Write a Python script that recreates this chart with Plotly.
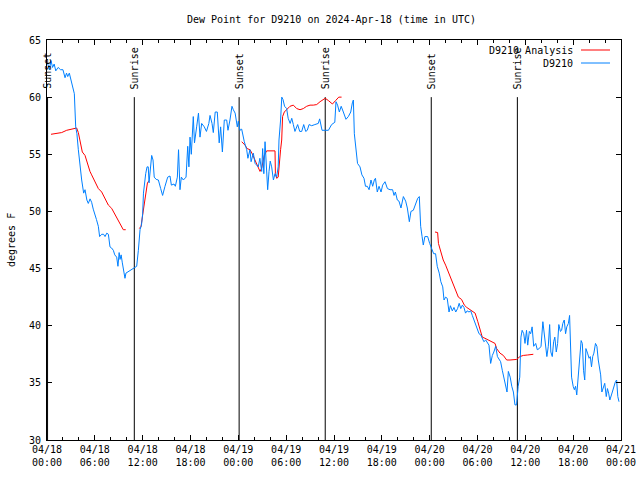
import pandas as pd
import plotly.graph_objects as go

START = "2024-04-18 00:00"

# ---- data (hours after 04/18 00:00 UTC, dew point in deg F) ----
obs_hours = [0.05, 0.3, 0.5, 0.7, 0.9, 1.1, 1.4, 1.7, 2.0, 2.26, 2.45, 2.6, 2.8, 3.1, 3.3, 3.43, 3.6, 3.75,
             3.93, 4.14, 4.35, 4.6, 4.77, 5.0, 5.18, 5.4, 5.6, 5.8, 6.02, 6.2, 6.44, 6.6, 6.86, 7.1, 7.28,
             7.5, 7.7, 7.9, 8.1, 8.32, 8.5, 8.74, 8.9, 9.05, 9.16, 9.3, 9.45, 9.6, 9.78, 9.9, 10.3, 10.6,
             11.0, 11.25, 11.46, 11.67, 11.85, 12.0, 12.1, 12.25, 12.38, 12.55, 12.7, 12.8, 13.0, 13.13,
             13.3, 13.45, 13.7, 13.97, 14.26, 14.5, 14.8, 15.14, 15.43, 15.6, 15.93, 16.1, 16.35, 16.5,
             16.68, 16.85, 17.1, 17.44, 17.65, 17.8, 17.94, 18.1, 18.35, 18.5, 18.77, 19.0, 19.19, 19.4,
             19.73, 20.0, 20.3, 20.45, 20.7, 20.86, 21.1, 21.36, 21.6, 21.78, 22.0, 22.24, 22.54, 22.7,
             22.95, 23.2, 23.37, 23.6, 23.87, 24.0, 24.2, 24.42, 24.75, 25.05, 25.2, 25.46, 25.6, 25.88,
             26.1, 26.5, 26.7, 26.93, 27.05, 27.2, 27.35, 27.5, 27.68, 27.85, 28.0, 28.18, 28.4, 28.6,
             28.8, 29.0, 29.1, 29.3, 29.45, 29.6, 29.8, 30.06, 30.25, 30.5, 30.7, 30.9, 31.1, 31.44, 31.7,
             31.95, 32.2, 32.45, 32.65, 32.87, 33.2, 33.6, 34.03, 34.2, 34.5, 34.87, 35.3, 35.7, 35.9,
             36.1, 36.25, 36.45, 36.67, 36.9, 37.17, 37.5, 37.8, 38.1, 38.3, 38.43, 38.55, 38.72, 38.95,
             39.26, 39.5, 39.76, 39.95, 40.18, 40.4, 40.64, 40.85, 41.06, 41.2, 41.43, 41.65, 41.9, 42.1,
             42.4, 42.7, 43.03, 43.35, 43.53, 43.7, 43.94, 44.15, 44.4, 44.7, 44.99, 45.2, 45.45, 45.65,
             45.95, 46.25, 46.5, 46.7, 46.87, 47.05, 47.2, 47.4, 47.75, 48.0, 48.3, 48.5, 48.74, 48.95,
             49.2, 49.4, 49.64, 49.8, 50.0, 50.2, 50.43, 50.6, 50.84, 51.05, 51.27, 51.5, 51.7, 51.9,
             52.1, 52.3, 52.5, 52.7, 52.93, 53.15, 53.35, 53.55, 53.77, 54.0, 54.19, 54.4, 54.6, 54.8,
             55.03, 55.25, 55.44, 55.65, 55.86, 56.05, 56.28, 56.5, 56.7, 56.9, 57.11, 57.3, 57.53, 57.7,
             57.87, 58.1, 58.3, 58.5, 58.7, 58.9, 59.1, 59.3, 59.45, 59.6, 59.8, 59.96, 60.15, 60.3, 60.5,
             60.67, 60.85, 61.05, 61.3, 61.5, 61.75, 61.97, 62.2, 62.38, 62.55, 62.7, 62.88, 63.05, 63.2,
             63.38, 63.55, 63.7, 63.88, 64.05, 64.2, 64.4, 64.55, 64.7, 64.88, 65.05, 65.2, 65.4, 65.55,
             65.65, 65.8, 66.0, 66.15, 66.3, 66.45, 66.6, 66.8, 67.0, 67.15, 67.3, 67.45, 67.6, 67.8,
             68.0, 68.15, 68.3, 68.45, 68.6, 68.8, 68.98, 69.15, 69.3, 69.45, 69.6, 69.8, 69.96, 70.15,
             70.3, 70.45, 70.6, 70.8, 70.98, 71.15, 71.3, 71.45, 71.6, 71.75]
obs_dewpt = [63.0, 62.4, 63.2, 62.6, 62.9, 62.3, 62.6, 62.4, 62.4, 61.7, 62.1, 61.8, 62.1, 61.2, 60.8, 60.3,
             57.4, 56.8, 55.4, 53.9, 52.75, 51.6, 51.9, 51.0, 50.7, 51.1, 50.8, 50.2, 49.8, 49.3, 48.7,
             47.8, 48.0, 48.0, 47.8, 48.1, 48.0, 46.9, 46.8, 46.6, 46.2, 46.0, 45.2, 46.4, 45.8, 46.2,
             45.5, 45.0, 44.15, 44.6, 44.8, 44.9, 45.1, 45.2, 46.6, 48.4, 48.8, 49.8, 51.6, 52.75, 53.3,
             53.9, 53.9, 52.5, 54.5, 54.9, 54.5, 53.0, 52.8, 52.75, 52.0, 51.4, 52.2, 53.0, 53.1, 52.3,
             52.4, 52.2, 53.0, 55.4, 51.9, 53.0, 52.75, 53.0, 55.7, 53.9, 56.5, 55.0, 58.3, 56.0, 57.4,
             58.6, 56.5, 57.7, 57.4, 57.0, 57.7, 58.4, 57.7, 56.9, 58.7, 58.7, 56.0, 57.4, 55.2, 58.0,
             58.0, 57.1, 58.0, 59.2, 58.9, 58.6, 57.4, 57.9, 57.1, 57.2, 56.1, 55.4, 54.65, 55.4, 54.35,
             55.1, 54.2, 53.9, 54.65, 53.5, 55.5, 53.3, 56.1, 53.5, 51.9, 53.5, 54.4, 53.9, 52.75, 53.3,
             53.0, 53.9, 56.25, 58.0, 60.0, 59.8, 59.2, 59.0, 58.15, 57.7, 58.15, 57.6, 57.0, 57.6, 57.0,
             57.0, 57.6, 57.0, 57.1, 57.6, 57.5, 57.6, 57.7, 58.1, 57.1, 57.1, 57.1, 57.6, 57.7, 57.8,
             59.6, 59.3, 58.7, 59.2, 58.7, 58.06, 58.3, 58.7, 59.5, 59.75, 56.8, 55.4, 54.2, 53.9, 53.2,
             52.9, 52.2, 52.2, 51.9, 52.75, 52.2, 52.75, 52.9, 51.7, 52.2, 51.7, 52.3, 52.6, 52.0, 51.9,
             51.9, 51.4, 51.7, 51.0, 50.9, 50.3, 51.3, 50.9, 50.3, 49.1, 50.0, 50.1, 50.7, 51.15, 51.3,
             48.7, 47.8, 47.06, 47.8, 47.8, 47.2, 46.6, 46.3, 46.3, 45.2, 44.6, 43.85, 43.4, 42.25, 42.5,
             42.4, 41.2, 41.75, 41.3, 41.6, 41.2, 41.5, 41.96, 41.5, 41.8, 41.6, 41.1, 41.3, 41.2, 41.3,
             40.9, 40.5, 40.2, 39.6, 39.3, 39.2, 38.9, 38.6, 38.75, 38.45, 38.3, 36.7, 37.4, 37.7, 38.2,
             37.3, 37.0, 36.85, 36.1, 35.5, 34.96, 34.2, 36.0, 35.5, 34.7, 34.2, 33.07, 33.07, 34.7, 35.5,
             39.0, 39.6, 39.3, 38.45, 39.6, 38.3, 39.5, 39.3, 39.9, 38.2, 38.45, 37.9, 38.0, 38.2, 40.35,
             39.3, 38.7, 37.3, 38.2, 40.1, 37.7, 37.3, 38.6, 39.0, 37.7, 38.45, 40.1, 39.5, 39.6, 40.2,
             40.5, 39.3, 39.9, 40.2, 40.9, 38.45, 35.5, 34.7, 34.4, 34.7, 33.94, 35.25, 37.0, 38.7, 38.45,
             36.1, 35.25, 38.0, 37.6, 37.15, 37.3, 36.4, 37.3, 37.6, 38.45, 38.2, 37.0, 36.4, 35.7, 34.2,
             34.7, 34.96, 33.8, 34.5, 34.1, 33.5, 33.94, 34.4, 34.8, 35.1, 35.25, 33.8, 33.35]

ana_hours = [0.5, 1.2, 1.84, 2.47, 3.1, 3.72, 3.93, 4.14, 4.43, 4.77, 5.1, 5.39, 5.6, 6.02, 6.44, 6.86,
             7.28, 7.69, 8.11, 8.53, 8.95, 9.28, 9.57, 9.87, None,
             11.58, 11.8, 12.0, 12.2, 12.4, 12.6, 12.8, None,
             24.42, 24.84, 25.1, 25.46, 25.7, 25.97, 26.3, 26.5, 26.72, 26.93, 27.13, 27.25, 27.55,
             28.0, 28.6, 28.65, 28.81, 29.0, 29.14, 29.3, 29.44, 29.55, 29.77, 30.06, 30.48, 30.9,
             31.32, 31.74, 32.15, 32.57, 32.99, 33.4, 33.83, 34.25, 34.66, 34.9, 35.3, 35.8, 36.2,
             36.6, 36.95, None,
             48.67, 49.0, 49.1, 49.42, 49.7, 50.0, 50.34, 50.68, 50.96, 51.27, 51.6, 52.0, 52.35,
             52.65, 53.06, 53.35, 53.7, 54.04, 54.3, 54.6, 54.94, 55.35, 55.78, 56.2, 56.4, 56.82,
             57.24, 57.66, 58.08, 58.5, 58.9, 59.33, 59.75, 60.3, 61.0]
ana_dewpt = [56.75, 56.85, 56.9, 57.1, 57.2, 57.3, 56.9, 56.25, 55.2, 54.9, 54.06, 53.5, 53.2, 52.6, 52.0,
             51.7, 51.15, 50.56, 50.27, 49.7, 49.25, 48.67, 48.4, 48.4, None,
             48.5, 48.7, 49.7, 50.8, 51.7, 52.5, 52.7, None,
             56.1, 55.8, 55.5, 55.4, 55.1, 54.65, 54.2, 53.9, 53.5, 53.8, 54.35, 54.9, 55.3,
             55.3, 55.3, 53.3, 52.9, 53.0, 54.5, 55.4, 56.25, 58.3, 58.7, 58.9, 59.2, 59.3,
             59.0, 58.9, 59.0, 59.2, 59.3, 59.3, 59.35, 59.6, 59.8, 59.9, 59.7, 59.4, 59.7,
             60.0, 60.0, None,
             48.2, 48.15, 47.2, 46.3, 45.75, 45.3, 44.7, 44.15, 43.7, 43.1, 42.5, 42.3, 41.8,
             41.6, 41.4, 41.2, 41.1, 40.35, 39.6, 39.0, 38.9, 38.75, 38.6, 38.45, 38.0, 37.6,
             37.4, 37.0, 37.0, 37.05, 37.05, 37.3, 37.4, 37.44, 37.5]

sun_hours = [0.07, 10.95, 24.1, 34.9, 48.2, 59.0]
sun_labels = ["Sunset", "Sunrise", "Sunset", "Sunrise", "Sunset", "Sunrise"]
sun_line_top = 60

series_names = ["D9210 Analysis", "D9210"]
title_text = "Dew Point for D9210 on 2024-Apr-18 (time in UTC)"
y_title = "degrees F"
# -----------------------------------------------------------------

t0 = pd.Timestamp(START)


def to_time(hours):
    return [None if h is None else t0 + pd.Timedelta(hours=h) for h in hours]


FONT = "DejaVu Sans Mono"
RED = "#ff0000"
BLUE = "#0080ff"

fig = go.Figure()

# sunrise / sunset lines
for h, lab in zip(sun_hours, sun_labels):
    t = t0 + pd.Timedelta(hours=h)
    fig.add_trace(go.Scatter(x=[t, t], y=[30, sun_line_top], mode="lines",
                             line=dict(color="black", width=1), showlegend=False,
                             hoverinfo="skip"))
    fig.add_annotation(x=t, y=sun_line_top, xref="x", yref="y", text=lab,
                       textangle=-90, showarrow=False, xanchor="center", yanchor="bottom",
                       yshift=6, font=dict(family=FONT, size=10, color="black"))

fig.add_trace(go.Scatter(x=to_time(ana_hours), y=ana_dewpt, mode="lines",
                         line=dict(color=RED, width=1), name=series_names[0],
                         connectgaps=False, showlegend=False))
fig.add_trace(go.Scatter(x=to_time(obs_hours), y=obs_dewpt, mode="lines",
                         line=dict(color=BLUE, width=1), name=series_names[1],
                         showlegend=False))

# gnuplot-style legend (text right, sample line to its right)
for i, (nm, col) in enumerate(zip(series_names, [RED, BLUE])):
    ypx = 50 + 13 * i
    ypap = 1 - (ypx - 40) / 400
    fig.add_annotation(xref="paper", yref="paper", x=(574 - 47) / 574, y=ypap,
                       text=nm, showarrow=False, xanchor="right", yanchor="middle",
                       font=dict(family=FONT, size=10, color="black"), borderpad=0)
    fig.add_shape(type="line", xref="paper", yref="paper",
                  x0=(581 - 47) / 574, x1=(610 - 47) / 574, y0=ypap, y1=ypap,
                  line=dict(color=col, width=1))

fig.add_annotation(xref="paper", yref="paper", x=0, y=0.5, xshift=-36,
                   text=y_title, textangle=-90, showarrow=False,
                   xanchor="center", yanchor="middle",
                   font=dict(family=FONT, size=10, color="black"))

fig.update_layout(
    width=640, height=480,
    margin=dict(l=47, r=19, t=40, b=40, autoexpand=False),
    paper_bgcolor="white", plot_bgcolor="white",
    font=dict(family=FONT, size=10, color="black"),
    title=dict(text=title_text, x=331.5 / 640, y=1 - 19.5 / 480,
               xanchor="center", yanchor="middle",
               font=dict(family=FONT, size=10, color="black")),
    showlegend=False,
)

fig.update_xaxes(
    type="date", automargin=False,
    range=[t0, t0 + pd.Timedelta(hours=72)],
    tick0=t0, dtick=6 * 3600 * 1000,
    tickformat="%m/%d<br>%H:%M",
    ticks="inside", ticklen=5, tickcolor="black",
    showline=True, linecolor="black", linewidth=1, mirror="ticks",
    showgrid=False, zeroline=False,
    minor=dict(dtick=2 * 3600 * 1000, ticks="inside", ticklen=3, tickcolor="black", showgrid=False),
    tickfont=dict(family=FONT, size=10, color="black"),
)
fig.update_yaxes(
    automargin=False,
    range=[30, 65], dtick=5, tick0=30,
    ticks="inside", ticklen=5, tickcolor="black",
    showline=True, linecolor="black", linewidth=1, mirror="ticks",
    showgrid=False, zeroline=False, ticklabelstandoff=3,
    tickfont=dict(family=FONT, size=10, color="black"),
)

fig.write_html("out.html", config={"displayModeBar": False},
               post_script="document.body.style.margin='0';document.body.style.padding='0';")
